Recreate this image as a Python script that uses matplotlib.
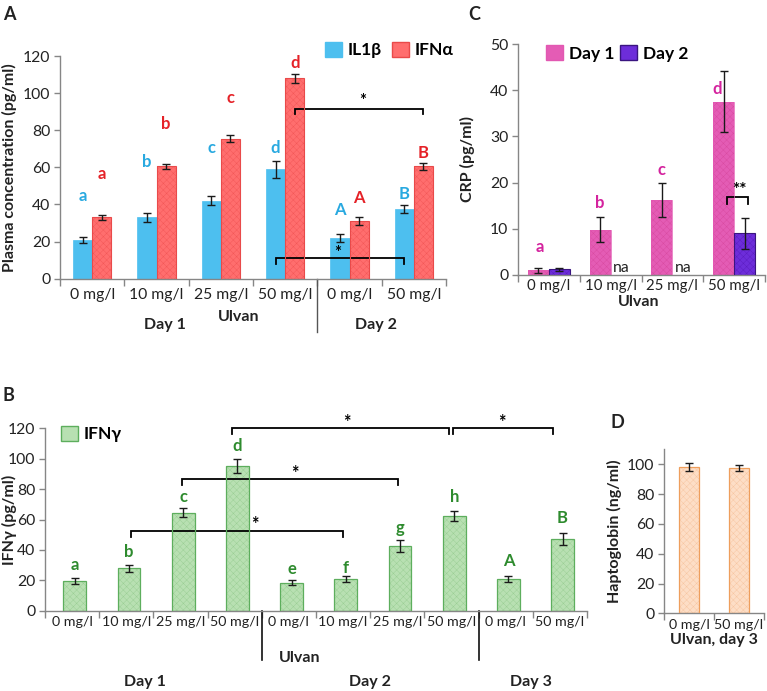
import matplotlib
matplotlib.use('Agg')
import matplotlib.pyplot as plt
import numpy as np
from matplotlib.patches import Patch

plt.rcParams['font.family'] = ['Lato', 'DejaVu Sans']
plt.rcParams['hatch.linewidth'] = 0.3

# ---------------- data ----------------
# Panel A
a_cats = ['0 mg/l', '10 mg/l', '25 mg/l', '50 mg/l', '0 mg/l', '50 mg/l']
il1b = [21, 33, 42, 59, 22, 37.5]
il1b_err = [1.5, 2.5, 2.5, 4.5, 2, 2]
ifna = [33, 60.5, 75.5, 108, 31, 60.5]
ifna_err = [1.5, 1.5, 2, 2.5, 2, 2]
il1b_letters = ['a', 'b', 'c', 'd', 'A', 'B']
ifna_letters = ['a', 'b', 'c', 'd', 'A', 'B']

# Panel C
c_cats = ['0 mg/l', '10 mg/l', '25 mg/l', '50 mg/l']
crp_day1 = [1.0, 9.8, 16.3, 37.5]
crp_day1_err = [0.5, 2.75, 3.65, 6.6]
crp_day2 = [1.2, np.nan, np.nan, 9.0]
crp_day2_err = [0.4, np.nan, np.nan, 3.4]
crp_letters = ['a', 'b', 'c', 'd']

# Panel B
b_cats = ['0 mg/l', '10 mg/l', '25 mg/l', '50 mg/l', '0 mg/l', '10 mg/l',
          '25 mg/l', '50 mg/l', '0 mg/l', '50 mg/l']
ifng = [19.5, 27.8, 64.6, 95.2, 18.4, 20.8, 42.5, 62.3, 20.6, 47]
ifng_err = [2, 2.5, 3.1, 4.4, 1.8, 2, 4, 3, 2, 4]
ifng_letters = ['a', 'b', 'c', 'd', 'e', 'f', 'g', 'h', 'A', 'B']

# Panel D
d_cats = ['0 mg/l', '50 mg/l']
hapto = [98.2, 97.5]
hapto_err = [2.7, 2.2]

# ---------------- layout helpers ----------------
W, H = 767, 691
fig = plt.figure(figsize=(W / 100, H / 100), dpi=100)


def px_rect(l, t, r, b):
    return [l / W, 1 - b / H, (r - l) / W, (b - t) / H]


SPINE = '#868686'
TXT = '#222222'
LABFS = 11.5


def style(ax, n, ymax, ystep, pad, xfs):
    for s in ['top', 'right']:
        ax.spines[s].set_visible(False)
    for s in ['left', 'bottom']:
        ax.spines[s].set_color(SPINE)
        ax.spines[s].set_linewidth(1)
    ax.set_xlim(-0.5, n - 0.5)
    ax.set_ylim(0, ymax)
    ax.set_yticks(np.arange(0, ymax + 0.01, ystep))
    ax.tick_params(axis='y', colors=SPINE, labelcolor=TXT, labelsize=11.3,
                   length=4, width=1, direction='out', pad=3)
    ax.set_xticks(np.arange(n))
    ax.set_xticks(np.arange(-0.5, n, 1.0), minor=True)
    ax.tick_params(axis='x', which='major', length=0, labelsize=xfs,
                   labelcolor=TXT, pad=pad)
    ax.tick_params(axis='x', which='minor', length=5, color=SPINE, width=1,
                   direction='out')


ekw = dict(ecolor='#1a1a1a', elinewidth=1, capsize=3, capthick=1)


def tex_bar(ax, x, h, w, face, hatchc, edge, lw, yerr):
    ax.bar(x, h, w, color=face, edgecolor=hatchc, hatch='xxxxx', linewidth=0,
           zorder=2)
    ax.bar(x, h, w, fill=False, edgecolor=edge, linewidth=lw, yerr=yerr,
           error_kw=ekw, zorder=3)


def bracket(ax, x0, x1, y, drop, star, sx, sy, fs=12):
    ax.plot([x0, x0, x1, x1], [y - drop, y, y, y - drop], color='black',
            lw=1.3, clip_on=False, solid_joinstyle='miter')
    ax.text(sx, sy, star, ha='center', va='center', fontsize=fs,
            fontweight='bold', color='black', clip_on=False)


legkw = dict(frameon=False, handlelength=1.0, handleheight=1.0,
             handletextpad=0.3, prop={'weight': 'bold', 'size': 12.5})

# ---------------- Panel A ----------------
axA = fig.add_axes(px_rect(60, 56, 446, 278.7))
style(axA, 6, 120, 20, pad=7, xfs=11.3)
xa = np.arange(len(a_cats))
bw = 0.3
axA.bar(xa - bw / 2, il1b, bw, color='#4DBFEF', edgecolor='#4DBFEF',
        linewidth=0.5, yerr=il1b_err, error_kw=ekw, zorder=2)
tex_bar(axA, xa + bw / 2, ifna, bw, '#FF6E6E', '#F25555', '#E94A4A', 0.8,
        ifna_err)
axA.set_xticklabels(a_cats)
il1b_lab_y = [44.7, 63, 70.3, 70.3, 37, 45.5]
ifna_lab_y = [56.4, 83.4, 97.5, 116, 43.3, 68]
for i in range(len(a_cats)):
    axA.text(xa[i] - bw / 2, il1b_lab_y[i], il1b_letters[i], ha='center',
             va='center', fontsize=12, fontweight='bold', color='#29A9E0')
    axA.text(xa[i] + bw / 2, ifna_lab_y[i], ifna_letters[i], ha='center',
             va='center', fontsize=12, fontweight='bold', color='#E52228',
             clip_on=False)
bracket(axA, 3 + bw / 2, 5 + bw / 2, 91.5, 3, '*', 4.2, 95.5)
bracket(axA, 3 - bw / 2, 5 - bw / 2, 11.3, 3.3, '*', 3.81, 14.0)
axA.set_ylabel('Plasma concentration (pg/ml)', fontsize=LABFS,
               fontweight='bold', color=TXT)
axA.yaxis.set_label_coords(-0.111, 0.5)
axA.plot([3.5, 3.5], [0, -0.238], color='#555555', lw=1,
         transform=axA.get_xaxis_transform(), clip_on=False)
axA.text(1.13, -0.208, 'Day 1', transform=axA.get_xaxis_transform(),
         ha='center', va='center', fontsize=LABFS, fontweight='bold', color=TXT)
axA.text(2.27, -0.171, 'Ulvan', transform=axA.get_xaxis_transform(),
         ha='center', va='center', fontsize=LABFS, fontweight='bold', color=TXT)
axA.text(4.41, -0.208, 'Day 2', transform=axA.get_xaxis_transform(),
         ha='center', va='center', fontsize=LABFS, fontweight='bold', color=TXT)
axA.legend(handles=[Patch(facecolor='#4DBFEF', edgecolor='#4DBFEF', label='IL1β'),
                    Patch(facecolor='#FF6E6E', edgecolor='#E94A4A', label='IFNα')],
           loc='center right', bbox_to_anchor=(1.06, 1.027), ncol=2,
           columnspacing=0.6, **legkw)

# ---------------- Panel C ----------------
axC = fig.add_axes(px_rect(518, 44, 765, 275))
style(axC, 4, 50, 10, pad=3, xfs=10.8)
xc = np.arange(len(c_cats))
cw = 0.34
tex_bar(axC, xc - cw / 2, crp_day1, cw, '#E45CB5', '#D8489F', '#E258B2', 0.5,
        crp_day1_err)
tex_bar(axC, xc + cw / 2, crp_day2, cw, '#6D2DDA', '#5A1CC0', '#3A1580', 0.8,
        crp_day2_err)
axC.set_xticklabels(c_cats)
crp_lab_y = [6.1, 15.5, 22.7, 40.2]
crp_lab_dx = [0.03, 0.0, 0.0, -0.11]
for i in range(len(c_cats)):
    axC.text(xc[i] - cw / 2 + crp_lab_dx[i], crp_lab_y[i], crp_letters[i],
             ha='center', va='center', fontsize=12, fontweight='bold',
             color='#D4239E')
    if np.isnan(crp_day2[i]):
        axC.text(xc[i] + cw / 2, 1.5, 'na', ha='center', va='center',
                 fontsize=11.3, color=TXT)
bracket(axC, 3 - cw / 2 + 0.06, 3 + cw / 2 + 0.05, 16.9, 1.5, '**', 3.08, 18.3,
        fs=12.5)
axC.set_ylabel('CRP (pg/ml)', fontsize=LABFS, fontweight='bold', color=TXT)
axC.yaxis.set_label_coords(-0.174, 0.5)
axC.text(0.49, -0.116, 'Ulvan', transform=axC.transAxes, ha='center',
         va='center', fontsize=LABFS, fontweight='bold', color=TXT)
axC.legend(handles=[Patch(facecolor='#E45CB5', edgecolor='#E258B2', label='Day 1'),
                    Patch(facecolor='#6D2DDA', edgecolor='#3A1580', label='Day 2')],
           loc='center left', bbox_to_anchor=(0.05, 0.96), ncol=2,
           columnspacing=0.35, **legkw)

# ---------------- Panel B ----------------
axB = fig.add_axes(px_rect(45, 428.3, 587, 610.7))
style(axB, 10, 120, 20, pad=4, xfs=10.3)
xb = np.arange(len(b_cats))
gw = 0.42
tex_bar(axB, xb + 0.05, ifng, gw, '#B8E0B2', '#98CC92', '#5DAE5D', 0.9,
        ifng_err)
axB.set_xticklabels(b_cats)
ifng_lab_y = [30, 38.4, 75, 108.4, 27.2, 27.9, 54.6, 75, 32.7, 61.2]
for i in range(len(b_cats)):
    axB.text(xb[i] + 0.05, ifng_lab_y[i], ifng_letters[i], ha='center',
             va='center', fontsize=12, fontweight='bold', color='#2E8B2E')
bracket(axB, 1.09, 5.0, 52.6, 4, '*', 3.37, 56.5, fs=13)
bracket(axB, 2.03, 6.01, 86.6, 4, '*', 4.11, 90.3, fs=13)
bracket(axB, 2.95, 6.95, 120, 4, '*', 5.07, 123.5, fs=13)
bracket(axB, 7.03, 8.87, 120, 4, '*', 7.93, 123.5, fs=13)
axB.set_ylabel('IFNγ (pg/ml)', fontsize=LABFS, fontweight='bold', color=TXT)
axB.yaxis.set_label_coords(-0.0517, 0.5)
for sx in [3.5, 7.5]:
    axB.plot([sx, sx], [0, -0.27], color='#111111', lw=1.2,
             transform=axB.get_xaxis_transform(), clip_on=False)
axB.text(4.2, -0.258, 'Ulvan', transform=axB.get_xaxis_transform(),
         ha='center', va='center', fontsize=LABFS, fontweight='bold', color=TXT)
for lx, lab in [(1.35, 'Day 1'), (5.5, 'Day 2'), (8.47, 'Day 3')]:
    axB.text(lx, -0.389, lab, transform=axB.get_xaxis_transform(),
             ha='center', va='center', fontsize=LABFS, fontweight='bold',
             color=TXT)
axB.legend(handles=[Patch(facecolor='#B8E0B2', edgecolor='#5DAE5D', label='IFNγ')],
           loc='center left', bbox_to_anchor=(0.0, 0.969), **legkw)

# ---------------- Panel D ----------------
axD = fig.add_axes(px_rect(664, 449.4, 764, 613.3))
style(axD, 2, 110, 20, pad=4, xfs=10.3)
axD.set_yticks(np.arange(0, 101, 20))
xd = np.arange(len(d_cats))
tex_bar(axD, xd, hapto, 0.4, '#FDDEC6', '#F6C49E', '#EE9E5C', 0.9, hapto_err)
axD.set_xticklabels(d_cats)
axD.set_ylabel('Haptoglobin (ng/ml)', fontsize=LABFS, fontweight='bold',
               color=TXT)
axD.yaxis.set_label_coords(-0.42, 0.5)
axD.text(0.5, -0.16, 'Ulvan, day 3', transform=axD.transAxes, ha='center',
         va='center', fontsize=LABFS, fontweight='bold', color=TXT)

# ---------------- panel letters ----------------
for x, y, s in [(3, 6, 'A'), (468, 6, 'C'), (3, 387, 'B'), (610, 414, 'D')]:
    fig.text(x / W, 1 - y / H, s, ha='left', va='top', fontsize=13,
             fontweight='bold', color=TXT)

fig.savefig('out.png', dpi=100)
